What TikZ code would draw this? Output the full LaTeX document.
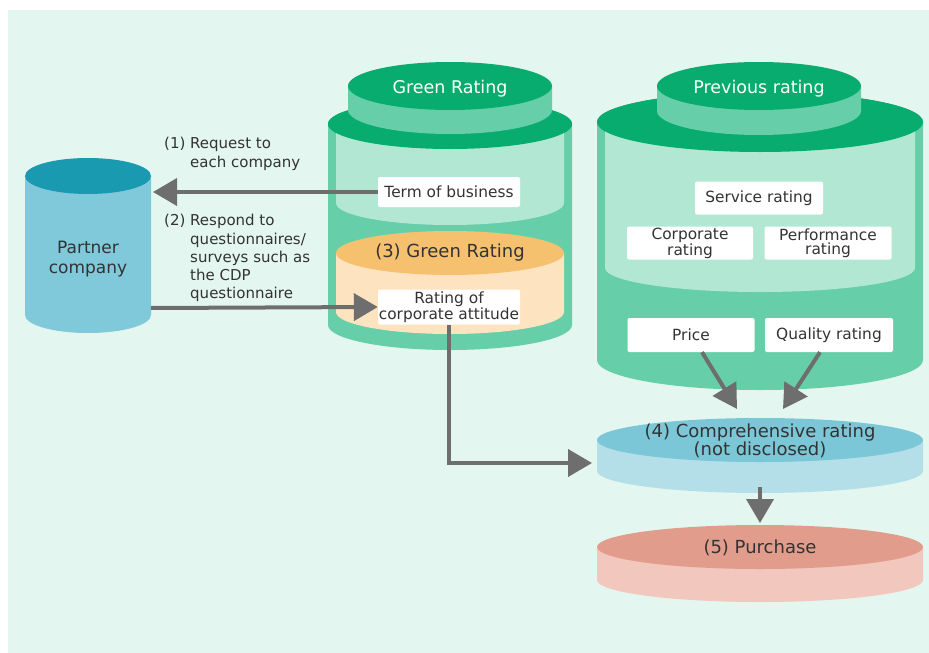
\documentclass[tikz,border=0pt]{standalone}
\usepackage{fontspec}
\setmainfont{DejaVu Sans}
\usetikzlibrary{arrows.meta}

\definecolor{panel}{HTML}{E3F6F0}
\definecolor{gtop}{HTML}{08AC6E}
\definecolor{gbody}{HTML}{66CFA9}
\definecolor{glight}{HTML}{B2E8D3}
\definecolor{otop}{HTML}{F6C16F}
\definecolor{obody}{HTML}{FDE3C0}
\definecolor{ptop}{HTML}{1A9AB0}
\definecolor{pbody}{HTML}{80C9DA}
\definecolor{ctop}{HTML}{7CC7D7}
\definecolor{cbody}{HTML}{B4DFE9}
\definecolor{utop}{HTML}{E29C8C}
\definecolor{ubody}{HTML}{F2C7BD}
\definecolor{arrowgray}{HTML}{6E6E6E}
\definecolor{ink}{HTML}{333333}

% cylinder: centre x, x radius, top y, bottom y, y radius, body colour, top colour
\newcommand\drawcyl[7]{%
  \fill[#6] ({#1-#2},#3) -- ({#1-#2},#4)
    arc[start angle=180,end angle=360,x radius=#2pt,y radius=#5pt]
    -- ({#1+#2},#3) -- cycle;
  \fill[#7] (#1,#3) ellipse[x radius=#2pt,y radius=#5pt];}
% open band (no top face): centre x, x radius, top y, bottom y, y radius, colour
\newcommand\drawband[6]{%
  \fill[#6] ({#1-#2},#3) -- ({#1-#2},#4)
    arc[start angle=180,end angle=360,x radius=#2pt,y radius=#5pt]
    -- ({#1+#2},#3) -- cycle;}

\tikzset{
  txt/.style={text=ink,font=\fontsize{15}{18.2}\selectfont,inner sep=0pt},
  bigtxt/.style={text=ink,font=\fontsize{18}{18}\selectfont,inner sep=0pt,align=center},
  captxt/.style={text=white,font=\fontsize{17.5}{18}\selectfont,inner sep=0pt},
  wbox/.style={fill=white,rounded corners=2pt,text=ink,align=center,
    font=\fontsize{15.4}{14.5}\selectfont,inner sep=0pt,minimum height=33pt},
  flow/.style={draw=arrowgray,line width=4pt,
    -{Triangle[length=24pt,width=27pt]}},
}

\begin{document}
\begin{tikzpicture}[x=1pt,y=-1pt]
\useasboundingbox (0,0) rectangle (929,653);
\fill[white] (0,0) rectangle (929,653);
\fill[panel] (8,10) rectangle (929,653);

% partner company
\drawcyl{88}{63}{176}{315}{18}{pbody}{ptop}
\node[txt,align=center,font=\fontsize{17}{20}\selectfont] (partner) at (88,259) {Partner\\company};

% green rating stack
\drawcyl{450}{122}{124}{325}{25}{gbody}{gtop}
\drawband{450}{114}{124}{203}{22}{glight}
\fill[gtop] (450,124) ellipse[x radius=122pt,y radius=25pt];
\drawcyl{450}{114}{253}{312}{22}{obody}{otop}
\drawcyl{450}{102}{86}{110}{24}{gbody}{gtop}
\node[captxt] (gcap) at (450,89) {Green Rating};
\node[wbox,minimum width=142pt,minimum height=30pt] (term) at (449,192) {Term of business};
\node[bigtxt] (gr) at (450,253) {(3) Green Rating};
\node[wbox,minimum width=142pt,minimum height=35pt] (attitude) at (449,307) {Rating of\\corporate attitude};

% previous rating stack
\drawcyl{760}{163}{122}{360}{30}{gbody}{gtop}
\drawband{760}{155}{122}{268}{24}{glight}
\fill[gtop] (760,122) ellipse[x radius=163pt,y radius=30pt];
\drawcyl{759}{102}{86}{111}{24}{gbody}{gtop}
\node[captxt] (pcap) at (759,89) {Previous rating};
\node[wbox,minimum width=128pt] (service) at (759,198) {Service rating};
\node[wbox,minimum width=126pt] (corp) at (690,243) {Corporate\\rating};
\node[wbox,minimum width=127pt] (perf) at (828,243) {Performance\\rating};
\node[wbox,minimum width=127pt,minimum height=34pt] (price) at (691,335) {Price};
\node[wbox,minimum width=128pt,minimum height=34pt] (quality) at (829,335) {Quality rating};

% comprehensive rating and purchase discs
\drawcyl{760}{163}{440}{471}{22}{cbody}{ctop}
\node[bigtxt] (comp) at (760,441) {(4) Comprehensive rating\\(not disclosed)};
\drawcyl{760}{163}{547}{580}{22}{ubody}{utop}
\node[bigtxt] (purchase) at (760,548) {(5) Purchase};

% arrow end points on the cylinders
\coordinate (pin) at (153,192);
\coordinate (pout) at (151,308);
\coordinate (cin) at (592,463);
\coordinate (ctipa) at (737,409);
\coordinate (ctipb) at (783,409);
\coordinate (cbot) at (760,487);
\coordinate (utip) at (760,523);

% connectors
\draw[flow] (term.west) -- (pin);
\draw[flow] (pout) -- (attitude.west);
\draw[flow] (attitude.south) |- (cin);
\draw[flow] ([xshift=11pt]price.south) -- (ctipa);
\draw[flow] ([xshift=-9pt]quality.south) -- (ctipb);
\draw[flow] (cbot) -- (utip);

% step labels
\node[txt,anchor=north west] (lab1) at (164,136)
  {\begin{tabular}{@{}l@{ }l@{}}(1)&Request to\\&each company\end{tabular}};
\node[txt,anchor=north west] (lab2) at (164,213)
  {\begin{tabular}{@{}l@{ }l@{}}(2)&Respond to\\&questionnaires/\\&surveys such as\\&the CDP\\&questionnaire\end{tabular}};
\end{tikzpicture}
\end{document}
